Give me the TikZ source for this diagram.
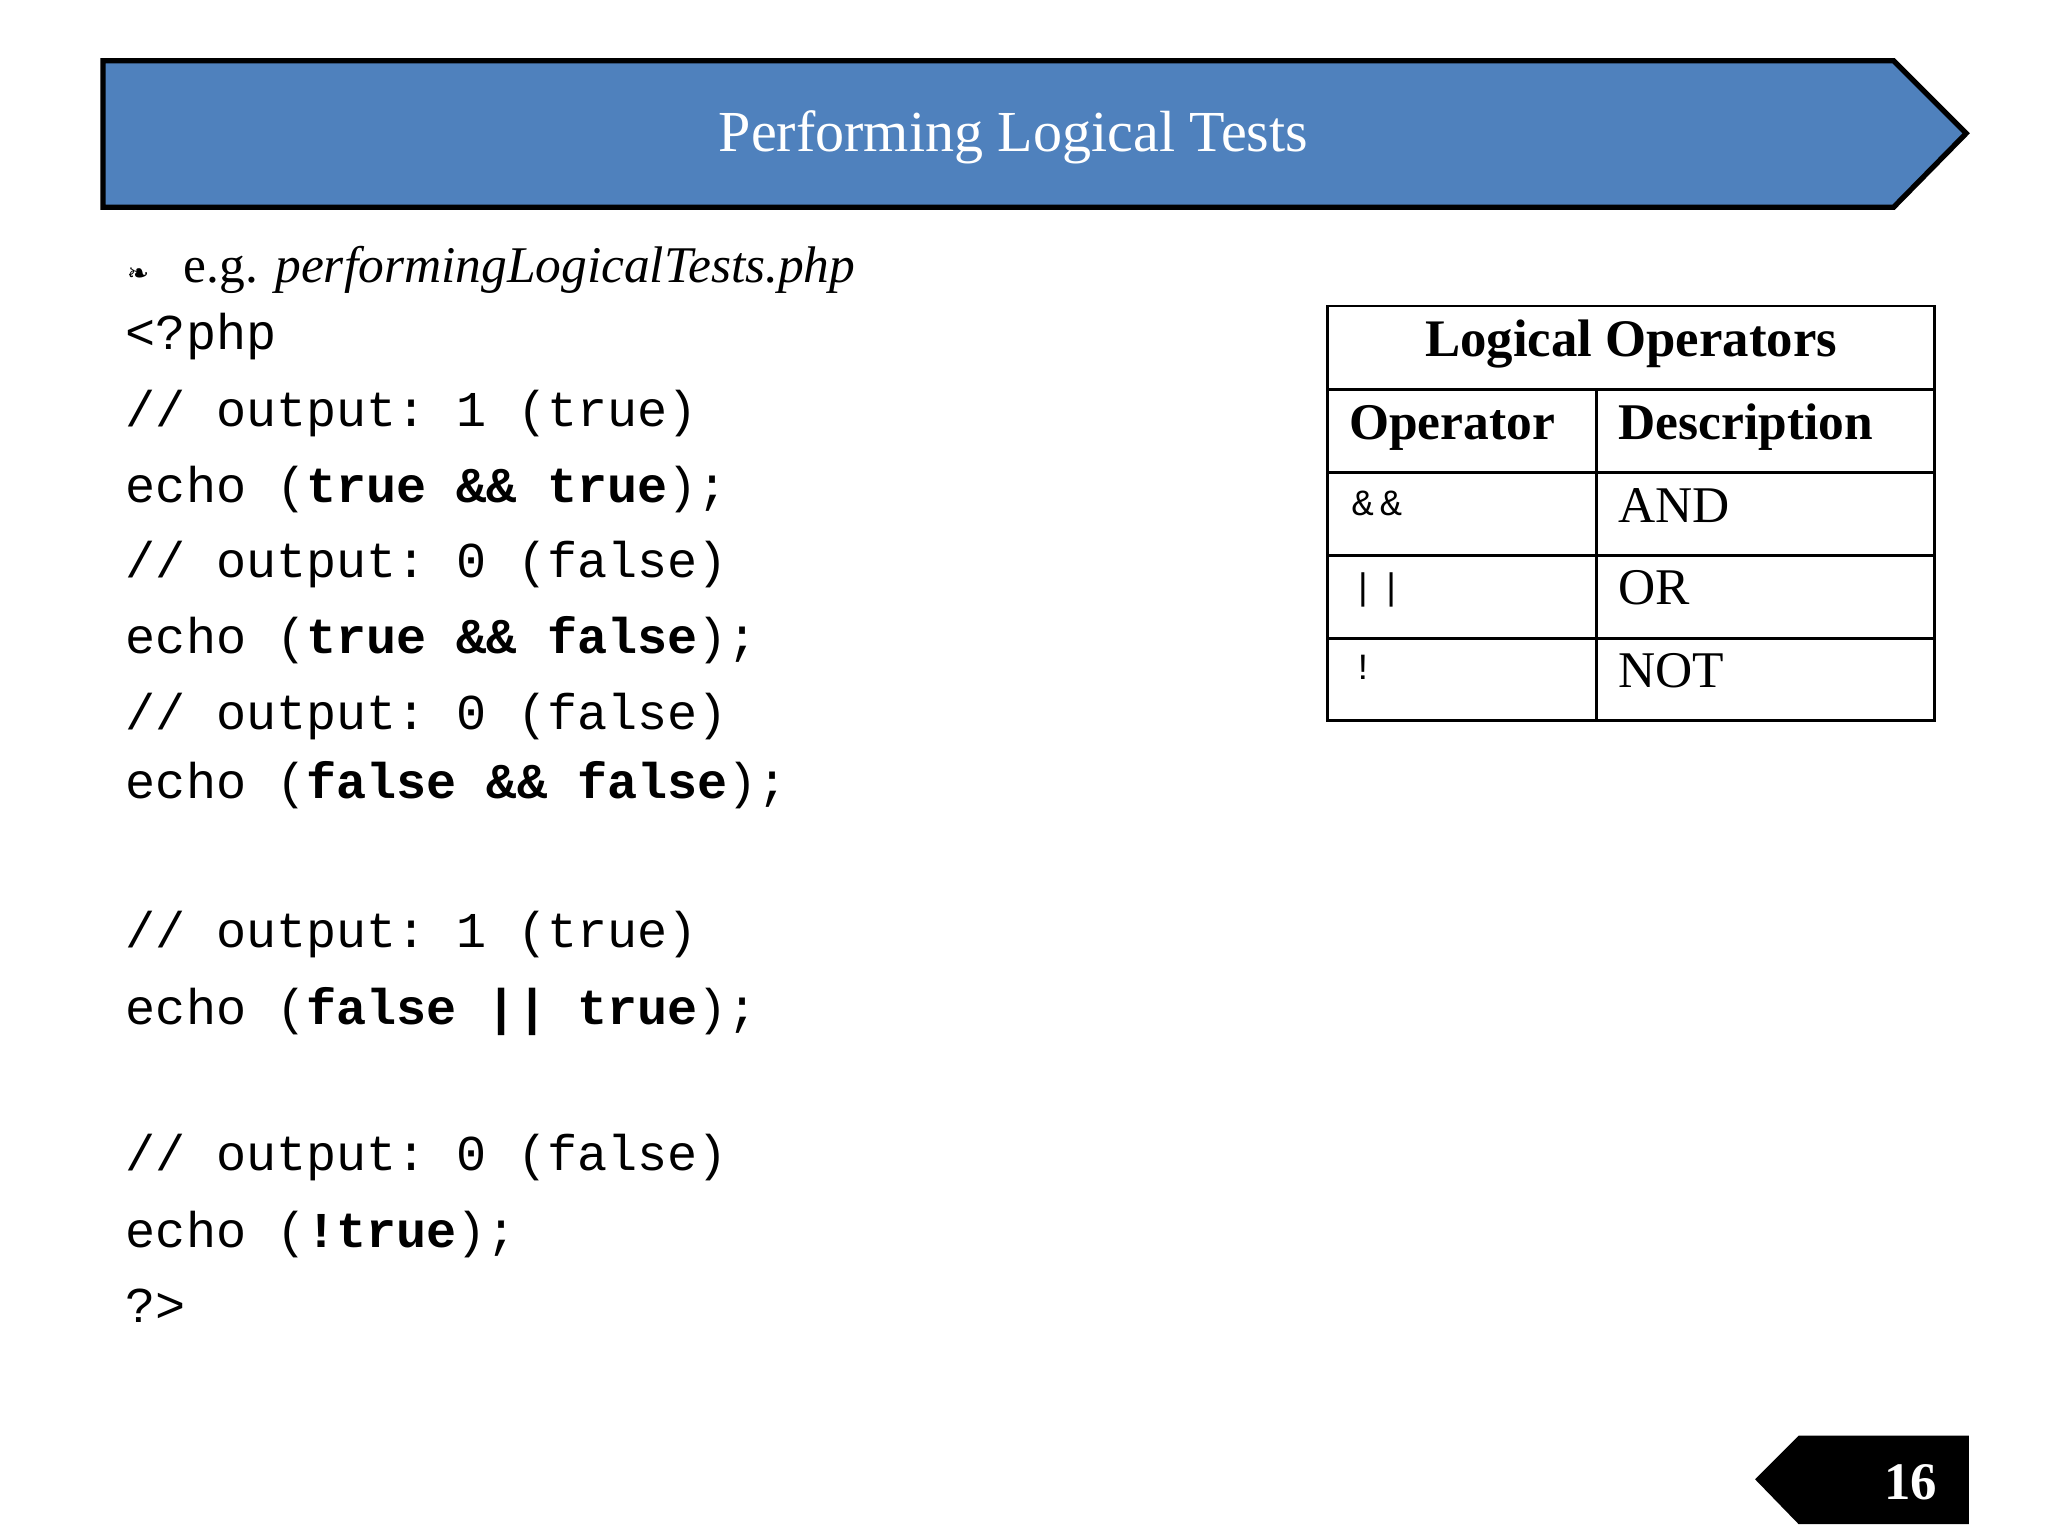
\documentclass[tikz,border=0pt]{standalone}
\usepackage{fontspec}
\setmainfont{Liberation Serif}
\setmonofont{Liberation Mono}
\newfontfamily\djv{DejaVu Sans}
\begin{document}
\begin{tikzpicture}[x=0.5pt,y=-0.5pt,
  code/.style={anchor=base west,inner sep=0pt,font=\ttfamily\fontsize{19}{22}\selectfont},
  cell/.style={anchor=base west,inner sep=0pt,font=\fontsize{19.5}{22}\selectfont},
  hcell/.style={anchor=base west,inner sep=0pt,font=\bfseries\fontsize{19.5}{22}\selectfont}]
\useasboundingbox (0,0) rectangle (1552,1164);
\fill[white] (0,0) rectangle (1552,1164);
\draw[line width=2pt,fill={rgb,255:red,79;green,129;blue,189}] (78,46) -- (1435,46) -- (1490,101) -- (1435,157) -- (78,157) -- cycle;
\node[text=white,font=\fontsize{22}{26}\selectfont] (title) at (768,104) {Performing Logical Tests};
\node[anchor=base west,inner sep=0pt,font=\djv\fontsize{10}{12}\selectfont] (bul) at (96,214) {❧};
\node[anchor=base west,inner sep=0pt,font=\fontsize{19.5}{22}\selectfont] (eg) at (139,214) {e.g. \textit{performingLogicalTests.php}};
\node[code] (l1) at (95,265) {<?php};
\node[code] (l2) at (95,323) {// output: 1 (true)};
\node[code] (l3) at (95,381) {echo (\textbf{true \&\& true});};
\node[code] (l4) at (95,438) {// output: 0 (false)};
\node[code] (l5) at (95,495) {echo (\textbf{true \&\& false});};
\node[code] (l6) at (95,553) {// output: 0 (false)};
\node[code] (l7) at (95,605) {echo (\textbf{false \&\& false});};
\node[code] (l8) at (95,718) {// output: 1 (true)};
\node[code] (l9) at (95,776) {echo (\textbf{false || true});};
\node[code] (l10) at (95,887) {// output: 0 (false)};
\node[code] (l11) at (95,945) {echo (\textbf{!true});};
\node[code] (l12) at (95,1002) {?>};
% table
\draw[line width=1pt] (1006,232) rectangle (1466,546);
\foreach \y in {295,358,421,484} \draw[line width=1pt] (1006,\y) -- (1466,\y);
\draw[line width=1pt] (1210,295) -- (1210,546);
\node[anchor=base,inner sep=0pt,font=\bfseries\fontsize{20}{24}\selectfont] (th) at (1236,270) {Logical Operators};
\node[hcell] (h1) at (1022,333) {Operator};
\node[hcell] (h2) at (1226,333) {Description};
\node[anchor=base west,inner sep=0pt,font=\ttfamily\fontsize{14}{16}\selectfont] (o1) at (1024,391) {\&\,\&};
\node[anchor=base west,inner sep=0pt,font=\ttfamily\fontsize{14}{16}\selectfont] (o2) at (1024,454) {|\,|};
\node[anchor=base west,inner sep=0pt,font=\ttfamily\fontsize{14}{16}\selectfont] (o3) at (1024,515) {!};
\node[cell] (d1) at (1226,396) {AND};
\node[cell] (d2) at (1226,458) {OR};
\node[cell] (d3) at (1226,521) {NOT};
% page number
\fill[black] (1330,1121) -- (1363,1088) -- (1492,1088) -- (1492,1155) -- (1363,1155) -- cycle;
\node[text=white,font=\bfseries\fontsize{20}{22}\selectfont] (pg) at (1448,1123) {16};
\end{tikzpicture}
\end{document}
